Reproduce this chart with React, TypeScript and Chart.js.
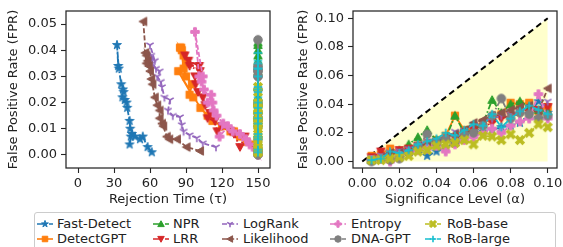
import React, { useEffect, useRef } from 'react';
import { Chart, registerables } from 'chart.js';
Chart.register(...registerables);

// ---------- data ----------
const methods = ['Fast-Detect', 'DetectGPT', 'NPR', 'LRR', 'LogRank', 'Likelihood', 'Entropy', 'DNA-GPT', 'RoB-base', 'RoB-large'];
const colors = ['#1f77b4', '#ff7f0e', '#2ca02c', '#d62728', '#9467bd', '#8c564b', '#e377c2', '#7f7f7f', '#bcbd22', '#17becf'];
const markers = ['star', 'square', 'triUp', 'triDown', 'tri1', 'triLeft', 'plusFilled', 'circle', 'xFilled', 'plus'];
const lineStyles = ['dashdot', 'solid', 'dashdot', 'dashdot', 'dashed', 'dashed', 'dashed', 'dashdot', 'dashdot', 'dashdot'];

const alphas = [0.005, 0.01, 0.015, 0.02, 0.025, 0.03, 0.035, 0.04, 0.045, 0.05, 0.055, 0.06, 0.065, 0.07, 0.075, 0.08, 0.085, 0.09, 0.095, 0.1];

const fprFastDetect = [0.001, 0.003, 0.007, 0.006, 0.007, 0.008, 0.004, 0.007, 0.010, 0.013, 0.018, 0.020, 0.021, 0.022, 0.024, 0.025, 0.027, 0.033, 0.042, 0.034];
const fprDetectGPT = [0.004, 0.005, 0.009, 0.007, 0.009, 0.011, 0.013, 0.015, 0.018, 0.032, 0.022, 0.023, 0.027, 0.030, 0.033, 0.041, 0.040, 0.041, 0.035, 0.038];
const fprNPR = [0.001, 0.003, 0.005, 0.008, 0.012, 0.017, 0.022, 0.015, 0.016, 0.032, 0.020, 0.022, 0.026, 0.043, 0.034, 0.040, 0.042, 0.038, 0.036, 0.035];
const fprLRR = [0.003, 0.007, 0.003, 0.008, 0.009, 0.011, 0.009, 0.013, 0.014, 0.016, 0.019, 0.022, 0.024, 0.027, 0.030, 0.032, 0.034, 0.034, 0.036, 0.038];
const fprLogRank = [0.003, 0.0045, 0.0065, 0.0076, 0.009, 0.0115, 0.0145, 0.015, 0.017, 0.021, 0.022, 0.026, 0.028, 0.030, 0.032, 0.033, 0.035, 0.038, 0.036, 0.042];
const fprLikelihood = [0.0015, 0.003, 0.006, 0.006, 0.007, 0.011, 0.012, 0.014, 0.017, 0.019, 0.022, 0.027, 0.029, 0.032, 0.034, 0.036, 0.038, 0.039, 0.035, 0.051];
const fprEntropy = [0.001, 0.002, 0.000, 0.004, 0.006, 0.008, 0.009, 0.011, 0.007, 0.012, 0.015, 0.017, 0.020, 0.023, 0.020, 0.025, 0.028, 0.030, 0.047, 0.030];
const fprDNAGPT = [0.000, 0.002, 0.001, 0.002, 0.006, 0.011, 0.019, 0.013, 0.016, 0.014, 0.019, 0.020, 0.025, 0.032, 0.044, 0.030, 0.034, 0.033, 0.030, 0.032];
const fprRoBBase = [0.001, 0.001, 0.002, 0.003, 0.004, 0.007, 0.008, 0.011, 0.012, 0.013, 0.015, 0.012, 0.018, 0.0175, 0.015, 0.019, 0.015, 0.020, 0.026, 0.024];
const fprRoBLarge = [0.001, 0.002, 0.007, 0.006, 0.008, 0.012, 0.014, 0.016, 0.020, 0.018, 0.022, 0.026, 0.025, 0.033, 0.024, 0.030, 0.035, 0.039, 0.036, 0.033];

const timeFastDetect = [61.5, 58, 54, 51.7, 47.5, 45, 43, 44, 43.5, 43, 41, 40.5, 39, 37, 38, 37.5, 36, 34, 32.5, 33.5];
const timeDetectGPT = [147.5, 140.5, 130, 135, 127, 120, 112, 108, 102, 83.5, 96, 93, 95, 90, 88, 86, 86.5, 85, 90, 88];
const timeNPR = [150, 150, 150, 150, 150, 150, 150, 150, 150, 150, 150, 150, 150, 150, 150, 150, 150, 150, 150, 150];
const timeLRR = [147.5, 139, 135, 130, 127, 120, 116, 114, 108, 110, 106, 104, 100, 98, 97.5, 101.7, 93, 101, 92, 89];
const timeLogRank = [115, 104, 99, 93, 88, 86.5, 85, 79, 75, 76.7, 72, 70, 69, 66, 68, 65, 62, 61, 64, 60];
const timeLikelihood = [101.7, 90.5, 82.5, 76, 74, 71, 70, 68, 68, 66, 64, 62, 61, 60, 59, 58, 57, 56, 57, 54.4];
const timeEntropy = [150, 148, 150, 143, 140, 135, 129, 125, 118, 121, 115.5, 113, 108, 111, 112, 105, 103, 101, 97.5, 104];
const timeDNAGPT = [150, 150, 150, 150, 150, 150, 150, 150, 150, 150, 150, 150, 150, 150, 150, 150, 150, 150, 150, 150];
const timeRoBBase = [150, 150, 150, 150, 150, 150, 150, 150, 150, 150, 150, 150, 150, 150, 150, 150, 150, 150, 150, 150];
const timeRoBLarge = [150, 150, 150, 150, 150, 150, 150, 150, 150, 150, 150, 150, 150, 150, 150, 150, 150, 150, 150, 150];

const fprs = [fprFastDetect, fprDetectGPT, fprNPR, fprLRR, fprLogRank, fprLikelihood, fprEntropy, fprDNAGPT, fprRoBBase, fprRoBLarge];
const times = [timeFastDetect, timeDetectGPT, timeNPR, timeLRR, timeLogRank, timeLikelihood, timeEntropy, timeDNAGPT, timeRoBBase, timeRoBLarge];

const leftXTicks = [0, 30, 60, 90, 120, 150];
const leftYTicks = [0, 0.01, 0.02, 0.03, 0.04, 0.05];
const rightXTicks = [0, 0.02, 0.04, 0.06, 0.08, 0.1];
const rightYTicks = [0, 0.02, 0.04, 0.06, 0.08, 0.1];
const diagonal = [0, 0.1];

// ---------- styling ----------
const FONT = { family: "'DejaVu Sans', sans-serif", size: 13 };
const TXT = '#222222';
const dashes: Record<string, number[]> = { solid: [], dashed: [5, 2.2], dashdot: [6, 2.2, 1.6, 2.2] };

function drawMarker(ctx: CanvasRenderingContext2D, shape: string, color: string, size: number, cx: number, cy: number) {
  const r = size / 2;
  ctx.save();
  ctx.translate(cx, cy);
  ctx.fillStyle = color;
  ctx.strokeStyle = color;
  ctx.lineWidth = 1;
  ctx.lineJoin = 'miter';
  ctx.setLineDash([]);
  ctx.beginPath();
  const plusPoly = (a: number, R: number) => [
    [-a, -R], [a, -R], [a, -a], [R, -a], [R, a], [a, a], [a, R], [-a, R], [-a, a], [-R, a], [-R, -a], [-a, -a],
  ];
  switch (shape) {
    case 'star': {
      for (let i = 0; i < 10; i++) {
        const ang = -Math.PI / 2 + (i * Math.PI) / 5;
        const rr = i % 2 === 0 ? r * 1.1 : r * 0.42;
        const x = rr * Math.cos(ang), y = rr * Math.sin(ang);
        if (i === 0) ctx.moveTo(x, y); else ctx.lineTo(x, y);
      }
      ctx.closePath(); ctx.fill(); ctx.stroke();
      break;
    }
    case 'square':
      ctx.rect(-r * 0.85, -r * 0.85, r * 1.7, r * 1.7); ctx.fill(); ctx.stroke();
      break;
    case 'triUp':
      ctx.moveTo(0, -r); ctx.lineTo(r, r * 0.8); ctx.lineTo(-r, r * 0.8); ctx.closePath(); ctx.fill(); ctx.stroke();
      break;
    case 'triDown':
      ctx.moveTo(0, r); ctx.lineTo(r, -r * 0.8); ctx.lineTo(-r, -r * 0.8); ctx.closePath(); ctx.fill(); ctx.stroke();
      break;
    case 'triLeft':
      ctx.moveTo(-r, 0); ctx.lineTo(r * 0.8, -r); ctx.lineTo(r * 0.8, r); ctx.closePath(); ctx.fill(); ctx.stroke();
      break;
    case 'tri1':
      ctx.lineWidth = 1.6;
      ctx.moveTo(0, 0); ctx.lineTo(0, r);
      ctx.moveTo(0, 0); ctx.lineTo(-0.866 * r, -0.5 * r);
      ctx.moveTo(0, 0); ctx.lineTo(0.866 * r, -0.5 * r);
      ctx.stroke();
      break;
    case 'plusFilled': {
      const pts = plusPoly(r / 3, r);
      pts.forEach(([x, y], i) => (i === 0 ? ctx.moveTo(x, y) : ctx.lineTo(x, y)));
      ctx.closePath(); ctx.fill(); ctx.stroke();
      break;
    }
    case 'xFilled': {
      ctx.rotate(Math.PI / 4);
      const pts = plusPoly(r / 3, r * 1.15);
      pts.forEach(([x, y], i) => (i === 0 ? ctx.moveTo(x, y) : ctx.lineTo(x, y)));
      ctx.closePath(); ctx.fill(); ctx.stroke();
      break;
    }
    case 'circle':
      ctx.arc(0, 0, r, 0, Math.PI * 2); ctx.fill(); ctx.stroke();
      break;
    case 'plus':
      ctx.lineWidth = 1.6;
      ctx.moveTo(-r, 0); ctx.lineTo(r, 0); ctx.moveTo(0, -r); ctx.lineTo(0, r);
      ctx.stroke();
      break;
  }
  ctx.restore();
}

function markerImage(shape: string, color: string, size: number): HTMLCanvasElement {
  const c = document.createElement('canvas');
  c.width = 16; c.height = 16;
  const ctx = c.getContext('2d')!;
  drawMarker(ctx, shape, color, size, 8, 8);
  return c;
}

const framePlugin = {
  id: 'frame',
  afterDraw(chart: any) {
    const { ctx, chartArea: a } = chart;
    ctx.save();
    ctx.strokeStyle = '#262626';
    ctx.lineWidth = 1.25;
    ctx.setLineDash([]);
    ctx.strokeRect(a.left, a.top, a.right - a.left, a.bottom - a.top);
    ctx.restore();
  },
};

const gridOpts = { display: true, drawOnChartArea: false, drawTicks: true, tickLength: 5, tickColor: '#262626', tickWidth: 1.1 };

function axes(o: any) {
  return {
    x: {
      type: 'linear', min: o.xMin, max: o.xMax,
      afterBuildTicks: (ax: any) => { ax.ticks = o.xTicks.map((v: number) => ({ value: v })); },
      afterFit: (s: any) => { s.height = o.xHeight; s.paddingLeft = 0; s.paddingRight = 0; },
      ticks: { callback: o.xFmt, font: FONT, color: TXT, padding: 3, maxRotation: 0, autoSkip: false },
      grid: gridOpts,
      border: { display: false },
      title: { display: true, text: o.xTitle, font: FONT, color: TXT, padding: { top: 0, bottom: 4.5 } },
    },
    y: {
      type: 'linear', min: o.yMin, max: o.yMax,
      afterBuildTicks: (ax: any) => { ax.ticks = o.yTicks.map((v: number) => ({ value: v })); },
      afterFit: (s: any) => { s.width = o.yWidth; s.paddingTop = 0; s.paddingBottom = 0; },
      ticks: { callback: (v: any) => Number(v).toFixed(2), font: FONT, color: TXT, padding: 4, autoSkip: false },
      grid: gridOpts,
      border: { display: false },
      title: { display: true, text: 'False Positive Rate (FPR)', font: FONT, color: TXT, padding: { top: o.yTitlePad, bottom: 0 } },
    },
  };
}

const commonOpts = (padding: any, scales: any) => ({
  animation: false,
  responsive: false,
  maintainAspectRatio: false,
  events: [],
  layout: { padding, autoPadding: false },
  plugins: { legend: { display: false }, tooltip: { enabled: false } },
  scales,
});

function methodDatasets(xs: number[][], imgs: HTMLCanvasElement[]) {
  return methods.map((m, i) => ({
    label: m,
    data: xs[i].map((x, j) => ({ x, y: fprs[i][j] })),
    showLine: true,
    borderColor: colors[i],
    backgroundColor: colors[i],
    borderWidth: 1.8,
    borderDash: dashes[lineStyles[i]],
    pointStyle: imgs[i],
    pointRadius: 4,
    pointHoverRadius: 4,
    order: methods.length - i,
  }));
}

function LegendMarker({ idx }: { idx: number }) {
  const ref = useRef<HTMLCanvasElement>(null);
  useEffect(() => {
    const c = ref.current!;
    const ctx = c.getContext('2d')!;
    ctx.clearRect(0, 0, c.width, c.height);
    ctx.save();
    ctx.strokeStyle = colors[idx];
    ctx.lineWidth = 1.6;
    ctx.setLineDash(dashes[lineStyles[idx]]);
    ctx.beginPath();
    ctx.moveTo(2, 7); ctx.lineTo(18, 7);
    ctx.stroke();
    ctx.restore();
    drawMarker(ctx, markers[idx], colors[idx], 6.5, 10, 7);
  }, [idx]);
  return <canvas ref={ref} width={20} height={14} style={{ position: 'absolute', left: 0, top: 0, width: 20, height: 14 }} />;
}

const legendMarkerX = [45, 161, 230, 338, 433];
const legendTextX = [57, 173, 243, 351, 447];
const legendRowY = [223.5, 238.5];

export default function App() {
  const leftRef = useRef<HTMLCanvasElement>(null);
  const rightRef = useRef<HTMLCanvasElement>(null);

  useEffect(() => {
    const imgs = methods.map((_, i) => markerImage(markers[i], colors[i], 8.5));

    const left = new Chart(leftRef.current!, {
      type: 'scatter',
      data: { datasets: methodDatasets(times, imgs) as any },
      options: commonOpts(
        { left: 0, right: 10, top: 11, bottom: 0 },
        axes({
          xMin: -10, xMax: 160, xTicks: leftXTicks, xFmt: (v: any) => String(v), xHeight: 44,
          xTitle: 'Rejection Time (τ)',
          yMin: -0.005, yMax: 0.055, yTicks: leftYTicks, yWidth: 66, yTitlePad: 6.2,
        })
      ) as any,
      plugins: [framePlugin],
    });

    const right = new Chart(rightRef.current!, {
      type: 'scatter',
      data: {
        datasets: [
          {
            label: 'region',
            data: diagonal.map((v) => ({ x: v, y: v })),
            showLine: true,
            fill: 'origin',
            backgroundColor: '#ffffcc',
            borderWidth: 0,
            borderColor: 'rgba(0,0,0,0)',
            pointRadius: 0,
            order: 100,
          },
          {
            label: 'diag',
            data: diagonal.map((v) => ({ x: v, y: v })),
            showLine: true,
            borderColor: '#000000',
            borderWidth: 2,
            borderDash: [6, 4],
            pointRadius: 0,
            order: 99,
          },
          ...methodDatasets(methods.map(() => alphas), imgs),
        ] as any,
      },
      options: commonOpts(
        { left: 0, right: 6, top: 11, bottom: 0 },
        axes({
          xMin: -0.005, xMax: 0.105, xTicks: rightXTicks, xFmt: (v: any) => Number(v).toFixed(2), xHeight: 44,
          xTitle: 'Significance Level (α)',
          yMin: -0.0045, yMax: 0.105, yTicks: rightYTicks, yWidth: 73, yTitlePad: 16.2,
        })
      ) as any,
      plugins: [framePlugin],
    });

    return () => { left.destroy(); right.destroy(); };
  }, []);

  return (
    <div style={{ position: 'fixed', left: 0, top: 0, width: 563, height: 247, background: '#fff', overflow: 'hidden' }}>
      <canvas ref={leftRef} width={280} height={212} style={{ position: 'absolute', left: 0, top: 0, width: 280, height: 212 }} />
      <canvas ref={rightRef} width={283} height={212} style={{ position: 'absolute', left: 280, top: 0, width: 283, height: 212 }} />
      <div style={{ position: 'absolute', left: 34, top: 212, width: 522, height: 44, border: '1px solid #cccccc', borderRadius: 3, boxSizing: 'border-box', background: '#fff' }} />
      {methods.map((m, i) => {
        const col = Math.floor(i / 2);
        const row = i % 2;
        return (
          <React.Fragment key={m}>
            <div style={{ position: 'absolute', left: legendMarkerX[col] - 10, top: legendRowY[row] - 7, width: 20, height: 14 }}>
              <LegendMarker idx={i} />
            </div>
            <div style={{ position: 'absolute', left: legendTextX[col], top: legendRowY[row] - 6.75, height: 14, lineHeight: '14px', fontFamily: "'DejaVu Sans', sans-serif", fontSize: 13, color: TXT, whiteSpace: 'nowrap' }}>
              {m}
            </div>
          </React.Fragment>
        );
      })}
    </div>
  );
}
